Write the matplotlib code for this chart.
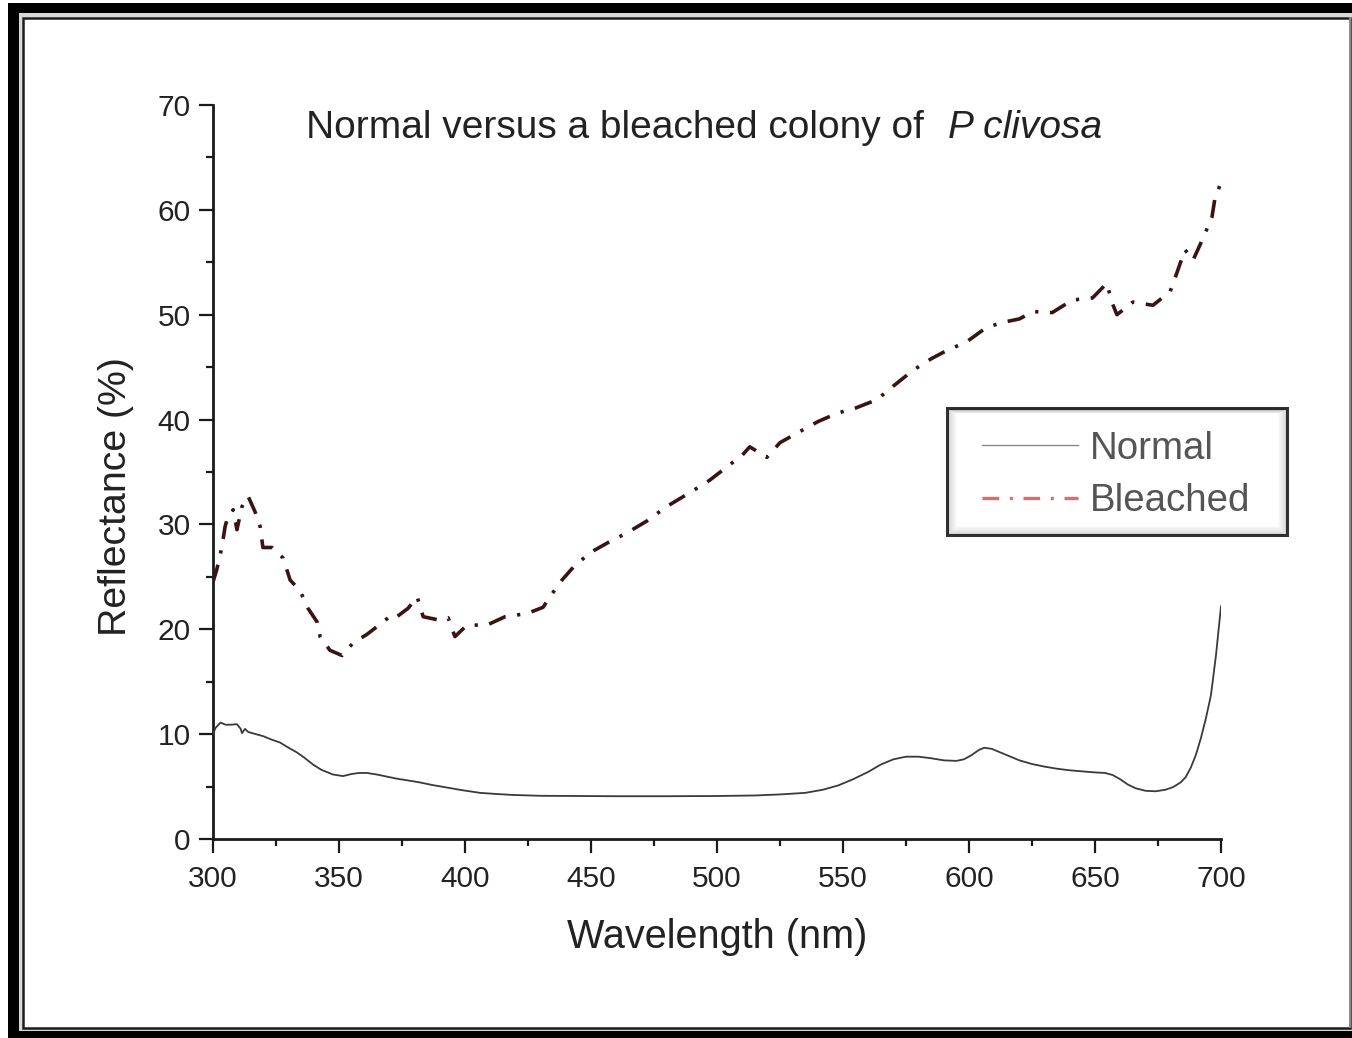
import matplotlib
matplotlib.use("Agg")
import matplotlib.pyplot as plt
from matplotlib.lines import Line2D
from matplotlib.patches import Rectangle
from matplotlib.ticker import MultipleLocator

plt.rcParams["font.family"] = ["Liberation Sans", "DejaVu Sans"]

# Espectros de reflectancia (comprimento de onda em nm, reflectancia em %)
wl_normal = [300, 301, 303, 305, 307, 309.5, 311, 311.5, 312.7, 314, 317, 320, 323,
             326.6, 330, 333, 336, 339.7, 343, 347.6, 351.6, 355, 358, 361, 365, 369,
             373, 377, 382, 387, 393, 399, 406, 412, 419, 430, 445, 460, 480, 500,
             515, 525, 535, 542, 548, 554, 560, 565, 570, 575, 580, 585, 590, 595,
             598, 601, 604, 606, 609, 612, 616, 620, 625, 630, 635, 640, 645, 650,
             654, 657, 660, 663, 666, 670, 674, 678, 681, 684, 686, 688, 690, 692,
             694, 696, 698, 700]
refl_normal = [10.0, 10.6, 11.1, 10.9, 10.9, 10.95, 10.5, 10.1, 10.5, 10.2, 10.0, 9.8, 9.5,
               9.2, 8.7, 8.3, 7.8, 7.1, 6.6, 6.15, 6.0, 6.2, 6.3, 6.3, 6.15, 5.95,
               5.75, 5.6, 5.4, 5.15, 4.9, 4.65, 4.4, 4.3, 4.2, 4.12, 4.1, 4.08, 4.08, 4.1,
               4.15, 4.25, 4.4, 4.7, 5.1, 5.7, 6.4, 7.1, 7.6, 7.85, 7.85, 7.7, 7.5, 7.45,
               7.6, 8.0, 8.5, 8.7, 8.6, 8.3, 7.9, 7.5, 7.15, 6.9, 6.7, 6.55, 6.45, 6.35,
               6.3, 6.1, 5.7, 5.2, 4.85, 4.6, 4.55, 4.7, 4.95, 5.4, 5.9, 6.8, 8.0, 9.6,
               11.5, 13.7, 17.5, 22.2]

wl_bleached = [300, 301.5, 303.5, 304.8, 306, 308, 309.5, 311.5, 313.9, 316.7, 318.7,
               319.8, 323.4, 327.8, 330.6, 334.5, 337.7, 341.3, 342.5, 346.4, 351.2,
               355.6, 361, 367, 371, 373, 377.4, 381, 383.4, 389.3, 393.3, 396, 400.8,
               408.7, 415.9, 424.6, 431, 433.7, 438.5, 442.9, 449.6, 457, 464.3, 472,
               480, 489, 497, 504, 510, 513, 519.8, 525, 531.7, 540, 547.6, 555, 563.5,
               570, 577.8, 585, 591.3, 599, 607, 614, 620, 625.4, 633, 641, 649, 654.7,
               656.7, 658.7, 665, 673, 679.8, 682.5, 685.7, 688.9, 692.5, 696.4, 697.6, 700]
refl_bleached = [24.5, 25.7, 27.8, 29.8, 30.8, 31.4, 29.5, 31.7, 32.7, 31.2, 29.8,
                 27.8, 27.8, 26.8, 24.7, 23.7, 22.0, 20.7, 19.3, 18.0, 17.5,
                 18.7, 19.5, 20.6, 21.4, 21.2, 22.0, 23.1, 21.2, 20.9, 21.1, 19.3, 20.4,
                 20.4, 21.2, 21.5, 22.1, 23.1, 24.7, 25.9, 27.3, 28.3, 29.2, 30.3,
                 31.7, 33.0, 34.2, 35.5, 36.6, 37.4, 36.4, 37.8, 38.7, 39.8, 40.6, 41.1, 41.9,
                 43.2, 44.7, 45.8, 46.6, 47.4, 48.8, 49.3, 49.6, 50.3, 50.2, 51.4, 51.6, 53.0,
                 51.2, 50.0, 51.2, 50.9, 52.2, 54.0, 56.2, 55.2, 57.1, 59.3, 61.1, 62.6]

series_labels = ["Normal", "Bleached"]
x_ticks = [300, 350, 400, 450, 500, 550, 600, 650, 700]
y_ticks = [0, 10, 20, 30, 40, 50, 60, 70]

W, H = 1352, 1038
TXT = "#222222"
DASH_DOT = (5.0, 3.2, 0.9, 3.2)


def px_rect(x0, y0, x1, y1):
    # converte caixa em pixels (origem no topo) para fracao da figura
    return (x0 / W, 1 - y1 / H), (x1 - x0) / W, (y1 - y0) / H


fig = plt.figure(figsize=(W / 100, H / 100), dpi=100)

# moldura dupla em volta da figura (lado direito cortado)
xy, w, h = px_rect(8, 3, W + 20, H + 20)
fig.add_artist(Rectangle(xy, w, h, transform=fig.transFigure, facecolor="black",
                         edgecolor="none", zorder=0))
xy, w, h = px_rect(19, 13, W + 20, 1031)
fig.add_artist(Rectangle(xy, w, h, transform=fig.transFigure, facecolor="#d8d8d8",
                         edgecolor="none", zorder=0))
xy, w, h = px_rect(22, 17, W + 20, 1028)
fig.add_artist(Rectangle(xy, w, h, transform=fig.transFigure, facecolor="white",
                         edgecolor="none", zorder=0))
xy, w, h = px_rect(22.5, 17.5, 1350, 1027.5)
fig.add_artist(Rectangle(xy, w, h, transform=fig.transFigure, facecolor="none",
                         edgecolor="#1a1a1a", linewidth=1.8, zorder=0))
fig.add_artist(Line2D([1350 / W, 1350 / W], [1 - 1027 / H, 1 - 18 / H],
                      transform=fig.transFigure, color="#9a9a9a", linewidth=1.2,
                      zorder=0))

ax = fig.add_axes([213 / W, 1 - 839 / H, (1221 - 213) / W, (839 - 105) / H])
ax.set_facecolor("none")

ax.plot(wl_normal, refl_normal, color="#3a3a3a", linewidth=1.3, zorder=3)
ax.plot(wl_bleached, refl_bleached, color="#3a1414", linewidth=2.6,
        dashes=DASH_DOT, zorder=3)

ax.set_xlim(300, 700)
ax.set_ylim(0, 70)
ax.set_xticks(x_ticks)
ax.set_yticks(y_ticks)
ax.xaxis.set_minor_locator(MultipleLocator(25))
ax.yaxis.set_minor_locator(MultipleLocator(5))
for side in ("top", "right"):
    ax.spines[side].set_visible(False)
for side in ("left", "bottom"):
    ax.spines[side].set_linewidth(2.0)
    ax.spines[side].set_color("#1a1a1a")
ax.tick_params(which="major", direction="out", length=10, width=1.6,
               labelsize=21.5, colors="#1a1a1a", labelcolor=TXT)
ax.tick_params(axis="x", which="major", pad=9)
ax.tick_params(axis="y", which="major", pad=6)
ax.tick_params(which="minor", direction="out", length=5, width=1.6, colors="#1a1a1a")

ax.set_xlabel("Wavelength (nm)", fontsize=28.5, color=TXT, labelpad=18)
ax.set_ylabel("Reflectance (%)", fontsize=28.3, color=TXT)
ax.yaxis.set_label_coords(-0.078, 0.467)

# titulo com o nome da especie em italico
fig.text(306 / W, 1 - 138 / H, "Normal versus a bleached colony of",
         fontsize=28, color=TXT, va="baseline", ha="left")
fig.text(948 / W, 1 - 138 / H, "P clivosa", fontsize=28, color=TXT,
         style="italic", va="baseline", ha="left")

# caixa da legenda com sombra interna
xy, w, h = px_rect(947, 408, 1287, 535)
fig.add_artist(Rectangle(xy, w, h, transform=fig.transFigure, facecolor="white",
                         edgecolor="#333333", linewidth=2.2, zorder=4))
for i in range(1, 10):
    xy, w, h = px_rect(947 + i, 408 + i * 0.5, 1287 - i, 535 - i)
    fig.add_artist(Rectangle(xy, w, h, transform=fig.transFigure, facecolor="none",
                             edgecolor="black", linewidth=0.8,
                             alpha=0.16 * (1 - i / 10), zorder=4))

handles = [
    Line2D([], [], color="#8a8a8a", linewidth=1.0),
    Line2D([], [], color="#e06a6a", linewidth=2.4, dashes=DASH_DOT),
]
leg = fig.legend(handles, series_labels, loc="center left",
                 bbox_to_anchor=(982 / W, 1 - 475 / H), frameon=False,
                 fontsize=27.7, handlelength=2.5, handletextpad=0.3,
                 labelspacing=0.42, borderpad=0, borderaxespad=0,
                 labelcolor="#555555")
leg.set_zorder(5)

fig.savefig("out.png", dpi=100)
